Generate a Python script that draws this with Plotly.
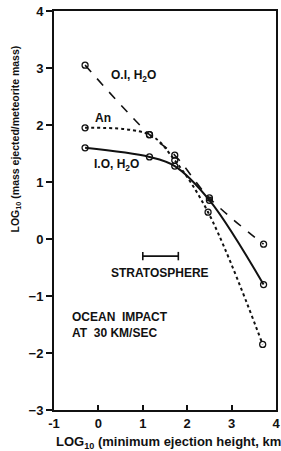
import plotly.graph_objects as go

# Data
x_o1 = [-0.3, 1.15, 1.72, 2.5, 3.72]
y_o1 = [3.05, 1.83, 1.47, 0.72, -0.09]

x_an = [-0.3, 1.15, 1.72, 2.47, 3.7]
y_an = [1.95, 1.83, 1.38, 0.47, -1.85]

x_io = [-0.3, 1.15, 1.72, 2.5, 3.72]
y_io = [1.6, 1.44, 1.28, 0.68, -0.8]

strat_x = [1.0, 1.8]
strat_y = [-0.3, -0.3]

x_ticks = [-1, 0, 1, 2, 3, 4]
y_ticks = [-3, -2, -1, 0, 1, 2, 3, 4]

FONT = "Liberation Sans"
BLACK = "#111111"

fig = go.Figure()

marker = dict(symbol="circle-open", size=6, color=BLACK, line=dict(width=1.3, color=BLACK))

fig.add_trace(go.Scatter(x=x_o1, y=y_o1, mode="lines+markers", line=dict(color=BLACK, width=1.6, dash="dash", shape="spline"), marker=marker))
fig.add_trace(go.Scatter(x=x_an, y=y_an, mode="lines+markers", line=dict(color=BLACK, width=2, dash="dot", shape="spline"), marker=marker))
fig.add_trace(go.Scatter(x=x_io, y=y_io, mode="lines+markers", line=dict(color=BLACK, width=2, shape="spline"), marker=marker))
fig.add_trace(go.Scatter(x=strat_x, y=strat_y, mode="lines+markers", line=dict(color=BLACK, width=1.6),
                         marker=dict(symbol="line-ns", size=6, line=dict(width=1.6, color=BLACK), color=BLACK)))

tf = dict(family=FONT, size=12, color=BLACK, weight="bold")

ann = [
    dict(x=0.79, y=2.86, text="O.I, H<sub>2</sub>O", xanchor="center"),
    dict(x=0.1, y=2.12, text="An", xanchor="center"),
    dict(x=0.41, y=1.3, text="I.O, H<sub>2</sub>O", xanchor="center"),
    dict(x=1.39, y=-0.6, text="STRATOSPHERE", xanchor="center"),
    dict(x=-0.63, y=-1.51, text="OCEAN  IMPACT<br>AT  30 KM/SEC", xanchor="left", align="left"),
]
for a in ann:
    fig.add_annotation(xref="x", yref="y", showarrow=False, font=tf, yanchor="middle", **a)

fig.add_annotation(xref="paper", yref="paper", x=-0.172, y=0.68, text="LOG<sub>10</sub> (mass ejected/meteorite mass)",
                   textangle=-90, showarrow=False, font=dict(family=FONT, size=10.5, color=BLACK, weight="bold"),
                   xanchor="center", yanchor="middle")
fig.add_annotation(xref="paper", yref="paper", x=0.0, y=-0.055, text="LOG<sub>10</sub> (minimum ejection height, km)",
                   showarrow=False, font=dict(family=FONT, size=13, color=BLACK, weight="bold"),
                   xanchor="left", yanchor="top")

fig.update_layout(
    width=281, height=451,
    margin=dict(l=54, r=1, t=11, b=41),
    paper_bgcolor="white", plot_bgcolor="white",
    showlegend=False,
    xaxis=dict(range=[-1, 4], tickvals=x_ticks, ticktext=["-1" if v == -1 else str(v) for v in x_ticks],
               ticks="inside", ticklen=5, tickwidth=1.5, tickcolor=BLACK, ticklabeloverflow="allow",
               showline=True, linewidth=2, linecolor=BLACK, mirror=True, showgrid=False, zeroline=False,
               tickfont=dict(family=FONT, size=13, color=BLACK, weight="bold")),
    yaxis=dict(range=[-3, 4], tickvals=y_ticks,
               ticks="outside", ticklen=6, tickwidth=1.5, tickcolor=BLACK,
               showline=True, linewidth=2, linecolor=BLACK, mirror=True, showgrid=False, zeroline=False,
               tickfont=dict(family=FONT, size=13, color=BLACK, weight="bold")),
)

fig.write_html("out.html", config={"displayModeBar": False},
               post_script="document.body.style.margin='0';document.body.style.overflow='hidden';")
